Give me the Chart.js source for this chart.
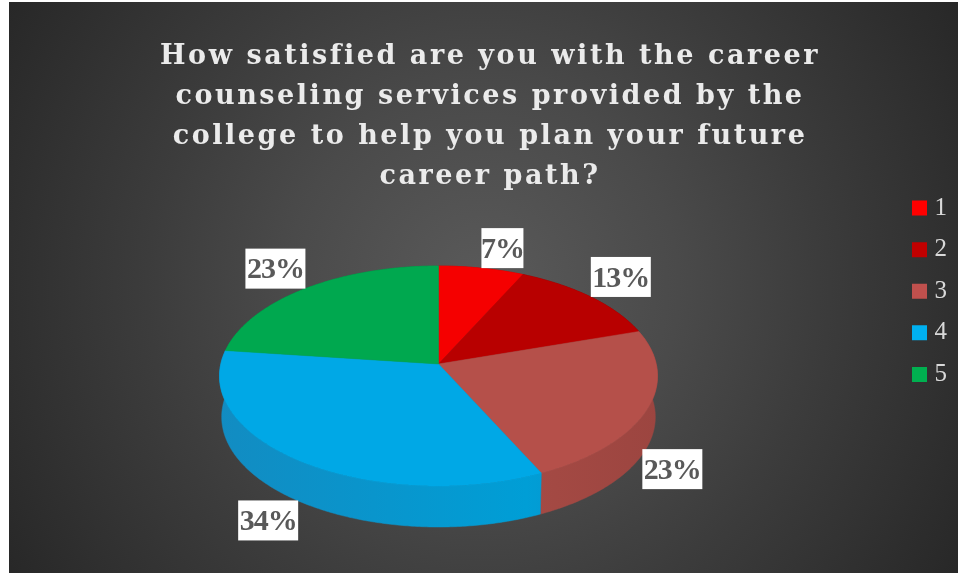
<!DOCTYPE html>
<html>
<head>
<meta charset="utf-8">
<title>Career counseling satisfaction</title>
<script src="https://cdn.jsdelivr.net/npm/chart.js@4/dist/chart.umd.min.js"></script>
<style>
    body { margin: 0; background: #fff; }
    canvas { display: block; }
</style>
</head>
<body>
<canvas id="pieChart" width="958" height="573"></canvas>
<script>
// Chart data
const titleLines = [
    'How satisfied are you with the career',
    'counseling services provided by the',
    'college to help you plan your future',
    'career path?'
];
const categories = ['1', '2', '3', '4', '5'];
const percentages = [7, 13, 23, 34, 23];

// Colours
const legendColors = ['#ff0000', '#c00000', '#c0504d', '#00b0f0', '#00b050'];
const faceColors = ['#f50000', '#b80000', '#b5504a', '#00a8e6', '#00a84f'];
const sideLeftColors = ['#c00000', '#8a0000', '#9c4540', '#128cc2', '#008a40'];
const sideRightColors = ['#c00000', '#8a0000', '#a54a44', '#009ed6', '#008a40'];

// Tilted pie geometry: apex, radii, perspective and rim depth
const apexX = 438.5, apexY = 364;
const radiusX = 217.7, radiusY = 108.7;
const perspective = 0.109;
const depth = 41, bottomScale = 0.99;

// Label nudges off the rim, legend lift above the title's bottom edge
const labelShiftX = [0, 0, -5, 0, 0];
const legendLift = 24;

function project(angle) {
    const u = Math.cos(angle), v = Math.sin(angle);
    const w = 1 - perspective * v;
    return { x: apexX + radiusX * u / w, y: apexY + radiusY * v / w };
}

function rimPoints(arc) {
    const pts = [];
    const steps = Math.max(2, Math.ceil((arc.endAngle - arc.startAngle) / 0.01));
    for (let i = 0; i <= steps; i++) {
        pts.push(project(arc.startAngle + (arc.endAngle - arc.startAngle) * i / steps));
    }
    return pts;
}

function fillPath(ctx, pts, color) {
    ctx.beginPath();
    pts.forEach((p, i) => i ? ctx.lineTo(p.x, p.y) : ctx.moveTo(p.x, p.y));
    ctx.closePath();
    ctx.fillStyle = color;
    ctx.fill();
    ctx.strokeStyle = color;
    ctx.lineWidth = 0.5;
    ctx.stroke();
}

const tiltedPie = {
    id: 'tiltedPie',
    afterLayout(chart) {
        chart.legend.top -= legendLift;
    },
    beforeDraw(chart) {
        const ctx = chart.ctx;
        const bg = ctx.createRadialGradient(483, 287, 0, 483, 287, 560);
        bg.addColorStop(0, '#5a5a5a');
        bg.addColorStop(0.35, '#4a4a4a');
        bg.addColorStop(0.6, '#3c3c3c');
        bg.addColorStop(1, '#272727');
        ctx.fillStyle = bg;
        ctx.fillRect(9, 2, chart.width - 9, chart.height - 2);
        ctx.letterSpacing = '2.55px';
    },
    beforeDatasetsDraw(chart) {
        chart.ctx.letterSpacing = '0px';
    },
    beforeDatasetDraw(chart, args) {
        const ctx = chart.ctx;
        const arcs = args.meta.data;
        // side wall first, top faces then hide the back of it
        arcs.forEach((arc, i) => {
            const rim = rimPoints(arc);
            const lower = rim.map(p => ({
                x: apexX + (p.x - apexX) * bottomScale,
                y: p.y + depth
            })).reverse();
            const grad = ctx.createLinearGradient(220, 0, 658, 0);
            grad.addColorStop(0, sideLeftColors[i]);
            grad.addColorStop(0.7, sideRightColors[i]);
            grad.addColorStop(1, sideLeftColors[i]);
            fillPath(ctx, rim.concat(lower), grad);
        });
        arcs.forEach((arc, i) => {
            fillPath(ctx, [{ x: apexX, y: apexY }].concat(rimPoints(arc)), faceColors[i]);
        });
        return false;
    },
    afterDatasetsDraw(chart) {
        const ctx = chart.ctx;
        const arcs = chart.getDatasetMeta(0).data;
        ctx.save();
        ctx.font = 'bold 30px "Liberation Serif"';
        ctx.letterSpacing = '-1px';
        ctx.textAlign = 'center';
        ctx.textBaseline = 'middle';
        arcs.forEach((arc, i) => {
            const mid = (arc.startAngle + arc.endAngle) / 2;
            const rim = project(mid);
            const text = percentages[i] + '%';
            const w = text.length * 18 + 6;
            const cx = rim.x + Math.sign(Math.cos(mid)) * w / 2 + labelShiftX[i];
            const cy = rim.y + (Math.sin(mid) < 0 ? -20 : 60);
            ctx.fillStyle = '#ffffff';
            ctx.fillRect(cx - w / 2, cy - 20, w, 40);
            ctx.fillStyle = '#595959';
            ctx.fillText(text, cx, cy + 2);
        });
        ctx.restore();
    }
};

new Chart(document.getElementById('pieChart'), {
    type: 'pie',
    data: {
        labels: categories,
        datasets: [{
            data: percentages,
            backgroundColor: legendColors,
            borderWidth: 0
        }]
    },
    options: {
        responsive: false,
        animation: false,
        layout: { padding: { left: 23, right: 1 } },
        plugins: {
            tooltip: { enabled: false },
            title: {
                display: true,
                text: titleLines,
                color: '#ebebeb',
                font: { family: '"DejaVu Serif"', size: 27, weight: 'bold', lineHeight: 1.481 },
                padding: { top: 37, bottom: 6 }
            },
            legend: {
                position: 'right',
                align: 'start',
                fullSize: false,
                labels: {
                    color: '#d9d9d9',
                    font: { family: '"Liberation Serif"', size: 25 },
                    boxWidth: 5,
                    boxHeight: 5,
                    padding: 16.6,
                    generateLabels(chart) {
                        const items = Chart.overrides.doughnut.plugins.legend.labels.generateLabels(chart);
                        items.forEach(item => {
                            item.lineWidth = 10;
                            item.strokeStyle = item.fillStyle;
                        });
                        return items;
                    }
                }
            }
        }
    },
    plugins: [tiltedPie]
});
</script>
</body>
</html>
